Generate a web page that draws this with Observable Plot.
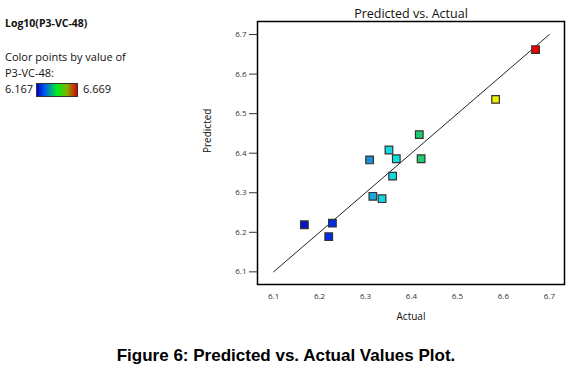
<!DOCTYPE html>
<html>
<head>
<meta charset="utf-8">
<script src="https://cdn.jsdelivr.net/npm/d3@7"></script>
<script src="https://cdn.jsdelivr.net/npm/@observablehq/plot@0.6"></script>
<style>
  html, body { margin: 0; padding: 0; background: #fff; }
  #wrap { position: relative; width: 572px; height: 375px; overflow: hidden; font-family: "Open Sans", sans-serif; }
  #chart { position: absolute; left: 0; top: 0; }
  .leg { position: absolute; font-size: 11px; color: #111; white-space: nowrap; }
  #bar { position: absolute; left: 36px; top: 83px; width: 42px; height: 14px; border: 1px solid #333; box-sizing: border-box;
         background: linear-gradient(to right, #0000c0, #0060f0 20%, #00f020 50%, #80b000 75%, #e00000); }
  #caption { position: absolute; left: 0; width: 572px; top: 346px; text-align: center; font-family: "Liberation Sans", Arial, sans-serif; font-weight: bold; font-size: 17px; color: #000; }
</style>
</head>
<body>
<div id="wrap">
  <div id="chart"></div>
  <div class="leg" style="left:5px; top:16px; font-weight:bold; font-size:10.5px;">Log10(P3-VC-48)</div>
  <div class="leg" style="left:5px; top:49px;">Color points by value of</div>
  <div class="leg" style="left:5px; top:65px;">P3-VC-48:</div>
  <div class="leg" style="left:5px; top:81px;" id="lo"></div>
  <div id="bar"></div>
  <div class="leg" style="left:83px; top:81px;" id="hi"></div>
  <div id="caption">Figure 6: Predicted vs. Actual Values Plot.</div>
</div>
<script>
// Data
const actual    = [6.167, 6.228, 6.220, 6.309, 6.316, 6.336, 6.351, 6.367, 6.359, 6.421, 6.417, 6.583, 6.670];
const predicted = [6.219, 6.223, 6.189, 6.383, 6.291, 6.285, 6.408, 6.386, 6.342, 6.386, 6.447, 6.536, 6.662];
const ticks = [6.1, 6.2, 6.3, 6.4, 6.5, 6.6, 6.7];
const colorMin = 6.167, colorMax = 6.669;
const refLine = [6.1, 6.7];

const points = actual.map((a, i) => ({actual: a, predicted: predicted[i]}));
const diag = refLine.map(v => ({x: v, y: v}));

document.getElementById("lo").textContent = colorMin.toFixed(3);
document.getElementById("hi").textContent = colorMax.toFixed(3);

const plot = Plot.plot({
  width: 572,
  height: 335,
  marginLeft: 257,
  marginRight: 8,
  marginTop: 21,
  marginBottom: 51,
  style: {fontFamily: "Open Sans, sans-serif", fontSize: "8px", color: "#333", background: "#fff"},
  x: {domain: [6.065, 6.733], label: null},
  y: {domain: [6.068, 6.733], label: null},
  color: {
    type: "linear",
    domain: [6.167, 6.23, 6.31, 6.325, 6.37, 6.42, 6.583, 6.669],
    range: ["#0a10c8", "#0030e8", "#1890d8", "#10d0e0", "#10e0e0", "#20cc70", "#f0f000", "#f00000"]
  },
  marks: [
    Plot.frame({stroke: "#000", strokeWidth: 1.5}),
    Plot.axisX({ticks: ticks, tickSize: 0, tickPadding: 9, tickFormat: d3.format(".1f"), label: null}),
    Plot.axisY({ticks: ticks, tickSize: 8, tickPadding: 3, tickFormat: d3.format(".1f"), label: null}),
    Plot.line(diag, {x: "x", y: "y", stroke: "#222", strokeWidth: 1}),
    Plot.dot(points, {x: "actual", y: "predicted", symbol: "square", r: 4.3, fill: d => d.actual, stroke: "#333", strokeWidth: 1.2}),
    Plot.text(["Predicted vs. Actual"], {frameAnchor: "top", dy: -12, fontSize: 12.5, fill: "#111"}),
    Plot.text(["Actual"], {frameAnchor: "bottom", dy: 35, fontSize: 10, fill: "#111"}),
    Plot.text(["Predicted"], {frameAnchor: "left", dx: -50, rotate: -90, fontSize: 10, fill: "#111"})
  ]
});
document.getElementById("chart").appendChild(plot);
</script>
</body>
</html>
